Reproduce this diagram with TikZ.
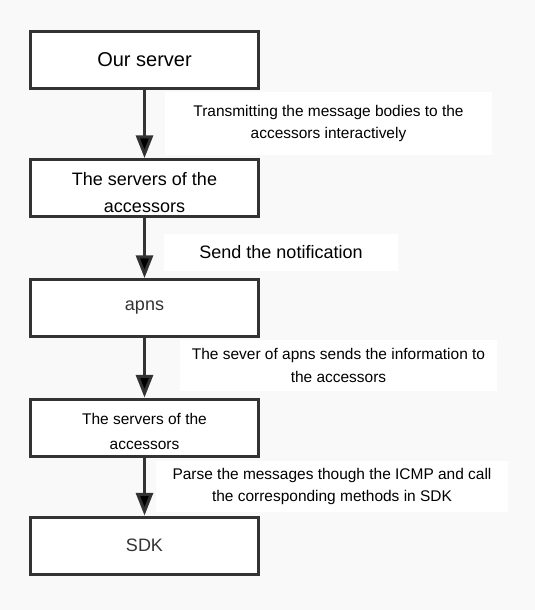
\documentclass[tikz,border=0pt]{standalone}
\usepackage{fontspec}
\setmainfont{Liberation Sans}
\usetikzlibrary{arrows.meta}
\definecolor{pagebg}{HTML}{F9F9F9}
\definecolor{ink}{HTML}{333333}
\begin{document}
\begin{tikzpicture}[x=0.75pt, y=-0.75pt,
    box/.style={draw=ink, line width=2.25pt, fill=white, minimum width=171pt, minimum height=42.75pt, align=center, inner sep=0pt},
    note/.style={fill=white, align=center, inner sep=0pt, font=\fontsize{11.6}{17}\selectfont},
    flow/.style={draw=ink, line width=2.25pt, -{Triangle[length=17pt, width=12.75pt]}}]
    \fill[pagebg] (0,0) rectangle (535,610);
    \useasboundingbox (0,0) rectangle (535,610);
    \node [box, font=\fontsize{15}{18}\selectfont] (srv) at (144.5,60) {Our server};
    \node [box, font=\fontsize{13.5}{20}\selectfont] (acc) at (144.5,188) {\rule{0pt}{16.5pt}The servers of the\\accessors};
    \node [box, font=\fontsize{13.5}{16}\selectfont, text=ink] (apns) at (144.5,308) {apns};
    \node [box, font=\fontsize{11.6}{18.5}\selectfont] (acc2) at (144.5,427.5) {\rule{0pt}{14.5pt}The servers of the\\accessors};
    \node [box, font=\fontsize{13.5}{16}\selectfont, text=ink] (sdk) at (144.5,545.5) {SDK};
    \node [note, minimum width=245pt, minimum height=47pt] (t1) at (328.5,123.5) {Transmitting the message bodies to the\\accessors interactively};
    \node [note, minimum width=175.5pt, minimum height=27.75pt, font=\fontsize{13.5}{16}\selectfont] (t2) at (281,252.5) {Send the notification};
    \node [note, minimum width=238pt, minimum height=38pt] (t3) at (338.5,365.5) {The sever of apns sends the information to\\the accessors};
    \node [note, minimum width=264pt, minimum height=38pt] (t4) at (332,486.5) {Parse the messages though the ICMP and call\\the corresponding methods in SDK};
    \path [flow] (srv) edge (acc);
    \path [flow] (acc) edge (apns);
    \path [flow] (apns) edge (acc2);
    \path [flow] (acc2) edge (sdk);
\end{tikzpicture}
\end{document}
